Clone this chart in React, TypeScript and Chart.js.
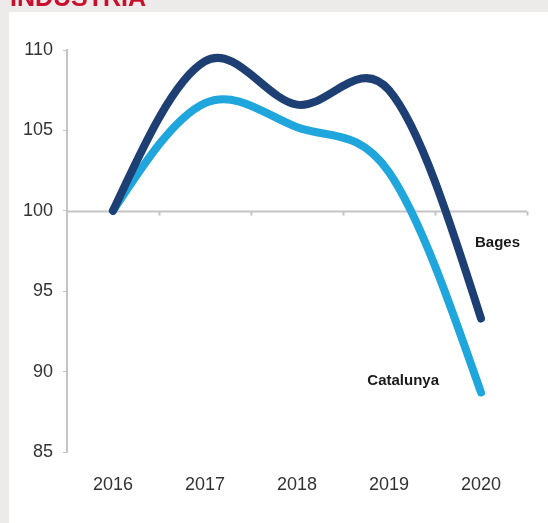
import React, { useEffect, useRef } from "react";
import { Chart, registerables } from "chart.js";

Chart.register(...registerables);

const categories = ["2016", "2017", "2018", "2019", "2020"];
const bagesValues = [100, 109.3, 106.6, 107.5, 93.3];
const catalunyaValues = [100, 106.7, 105.2, 102.4, 88.7];
const seriesNames = ["Bages", "Catalunya"];
const seriesColors = ["#1d3f73", "#1ea6dd"];
const yTicks = [85, 90, 95, 100, 105, 110];
const titleText = "INDUSTRIA";

const W = 548;
const H = 523;

// Excel-like smoothing: adjust the bezier control points of the line elements
const smoothPlugin = {
  id: "excelSmooth",
  beforeDatasetsDraw(chart: any) {
    chart.data.datasets.forEach((_: any, di: number) => {
      const meta = chart.getDatasetMeta(di);
      const pts = meta.data;
      const n = pts.length;
      if (n < 3) return;
      const k = 1 / 6;
      for (let i = 1; i < n - 1; i++) {
        const dx = pts[i + 1].x - pts[i - 1].x;
        const dy = pts[i + 1].y - pts[i - 1].y;
        pts[i].cp1x = pts[i].x - dx * k;
        pts[i].cp1y = pts[i].y - dy * k;
        pts[i].cp2x = pts[i].x + dx * k;
        pts[i].cp2y = pts[i].y + dy * k;
      }
      const p0 = pts[0];
      p0.cp1x = p0.x;
      p0.cp1y = p0.y;
      p0.cp2x = p0.x + (pts[1].cp1x - p0.x) / 2;
      p0.cp2y = p0.y + (pts[1].cp1y - p0.y) / 2;
      const pn = pts[n - 1];
      pn.cp2x = pn.x;
      pn.cp2y = pn.y;
      pn.cp1x = pn.x + (pts[n - 2].cp2x - pn.x) / 2;
      pn.cp1y = pn.y + (pts[n - 2].cp2y - pn.y) / 2;
      meta.dataset._pointsUpdated = true;
    });
  },
};

const decorPlugin = {
  id: "decor",
  beforeDraw(chart: any) {
    const ctx = chart.ctx;
    ctx.save();
    ctx.fillStyle = "#ecebe9";
    ctx.fillRect(0, 0, W, H);
    ctx.fillStyle = "#ffffff";
    ctx.fillRect(9, 12, W - 9, H - 12);
    ctx.fillStyle = "#c8102e";
    ctx.font = "bold 25px 'Liberation Sans', Arial, sans-serif";
    ctx.textBaseline = "alphabetic";
    ctx.textAlign = "left";
    ctx.fillText(titleText, 10, 6);
    ctx.restore();
  },
  beforeDatasetsDraw(chart: any) {
    const ctx = chart.ctx;
    const x = chart.scales.x;
    const y = chart.scales.y;
    const y100 = Math.round(y.getPixelForValue(100)) + 0.5;
    ctx.save();
    ctx.strokeStyle = "#c4c4c4";
    ctx.lineWidth = 2;
    ctx.beginPath();
    ctx.moveTo(chart.chartArea.left, y100);
    ctx.lineTo(chart.chartArea.right, y100);
    const n = categories.length;
    for (let i = 1; i <= n; i++) {
      const px = (x.getPixelForValue(i - 1) + x.getPixelForValue(i)) / 2;
      const bx = i === n ? chart.chartArea.right : px;
      ctx.moveTo(Math.round(bx) + 0.5, y100);
      ctx.lineTo(Math.round(bx) + 0.5, y100 + 4);
    }
    ctx.stroke();
    ctx.restore();
  },
  afterDatasetsDraw(chart: any) {
    const ctx = chart.ctx;
    const x = chart.scales.x;
    const y = chart.scales.y;
    ctx.save();
    ctx.fillStyle = "#1a1a1a";
    ctx.font = "bold 15px 'Liberation Sans', Arial, sans-serif";
    ctx.textBaseline = "middle";
    ctx.textAlign = "left";
    ctx.fillText(seriesNames[0], x.getPixelForValue(4) - 6, y.getPixelForValue(98.0));
    ctx.textAlign = "right";
    ctx.fillText(seriesNames[1], x.getPixelForValue(4) - 42, y.getPixelForValue(89.4));
    ctx.restore();
  },
};

export default function App() {
  const ref = useRef<HTMLCanvasElement>(null);
  useEffect(() => {
    document.body.style.margin = "0";
    const canvas = ref.current!;
    const mk = (i: number, data: number[]) => ({
      label: seriesNames[i],
      data,
      borderColor: seriesColors[i],
      borderWidth: 8,
      pointRadius: 0,
      tension: 0.4,
      borderCapStyle: "round",
      borderJoinStyle: "round",
    });
    const chart = new Chart(canvas, {
      type: "line",
      data: {
        labels: categories,
        datasets: [mk(0, bagesValues), mk(1, catalunyaValues)],
      },
      options: {
        responsive: false,
        animation: false,
        devicePixelRatio: 1,
        layout: { padding: { top: 50, right: 21, bottom: 0, left: 0 } },
        plugins: { legend: { display: false }, tooltip: { enabled: false } },
        elements: { line: { capBezierPoints: false } },
        scales: {
          x: {
            offset: true,
            border: { display: false },
            grid: { display: false },
            ticks: {
              color: "#333333",
              padding: 14,
              font: { family: "'Liberation Sans', Arial, sans-serif", size: 18 },
              maxRotation: 0,
            },
            afterFit(scale: any) {
              scale.height = 71;
            },
          },
          y: {
            min: 85,
            max: 110,
            afterBuildTicks(scale: any) {
              scale.ticks = yTicks.map((v) => ({ value: v }));
            },
            border: { display: true, color: "#c4c4c4", width: 2 },
            grid: { drawOnChartArea: false, drawTicks: true, tickLength: 4, color: "#c4c4c4", lineWidth: 1 },
            ticks: {
              color: "#333333",
              padding: 10,
              font: { family: "'Liberation Sans', Arial, sans-serif", size: 18 },
            },
            afterFit(scale: any) {
              scale.width = 67;
            },
          },
        },
      },
      plugins: [smoothPlugin, decorPlugin],
    } as any);
    return () => chart.destroy();
  }, []);
  return <canvas ref={ref} width={W} height={H} style={{ display: "block" }} />;
}
